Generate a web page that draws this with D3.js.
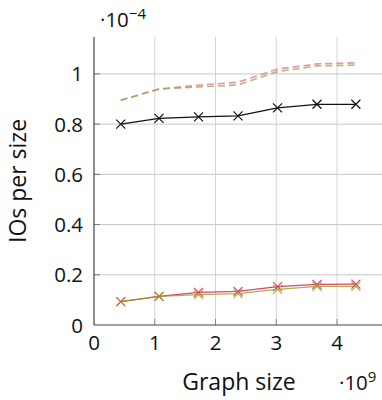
<!DOCTYPE html>
<html>
<head>
<meta charset="utf-8">
<script src="https://cdn.jsdelivr.net/npm/d3@7"></script>
<style>
  body { margin: 0; background: #fff; }
  text { font-family: "Open Sans", "DejaVu Sans", sans-serif; fill: #111; }
</style>
</head>
<body>
<div class="chart"></div>
<script>
const width = 382;
const height = 400;
const margin = { top: 37, bottom: 75, left: 94, right: 0 };

// graph size, in units of 10^9
const sizes = [0.44, 1.07, 1.72, 2.37, 3.02, 3.67, 4.31];
// IOs per size, in units of 10^-4
const blackVals = [0.800, 0.823, 0.829, 0.833, 0.865, 0.879, 0.879];
const redVals = [0.093, 0.114, 0.130, 0.134, 0.153, 0.162, 0.163];
const oliveVals = [0.093, 0.114, 0.121, 0.125, 0.142, 0.154, 0.154];
const redDashed = [0.895, 0.940, 0.955, 0.967, 1.019, 1.040, 1.044];
const oliveDashed = [0.895, 0.940, 0.948, 0.956, 1.009, 1.032, 1.035];

const xTicks = [0, 1, 2, 3, 4];
const yTicks = [0, 0.2, 0.4, 0.6, 0.8, 1];

const series = [
  { vals: redDashed, color: "#e0708a", dash: "7,4", marks: false, opacity: 0.75 },
  { vals: oliveDashed, color: "#a0a040", dash: "7,4", marks: false, opacity: 0.75 },
  { vals: blackVals, color: "#111", dash: null, marks: true, opacity: 1 },
  { vals: redVals, color: "#d8205a", dash: null, marks: true, opacity: 0.85 },
  { vals: oliveVals, color: "#9a9a20", dash: null, marks: true, opacity: 0.8 }
];

const xScale = d3.scaleLinear()
    .domain([0, 4.74])
    .range([margin.left, width - margin.right]);

const yScale = d3.scaleLinear()
    .domain([0, 1.147])
    .range([height - margin.bottom, margin.top]);

const svg = d3.select("div.chart")
    .append("svg")
    .attr("width", width)
    .attr("height", height);

const x0 = xScale(0), y0 = yScale(0);

// grid
svg.append("g")
    .selectAll("line")
    .data(xTicks.slice(1))
    .join("line")
    .attr("x1", d => xScale(d)).attr("x2", d => xScale(d))
    .attr("y1", margin.top).attr("y2", y0)
    .attr("stroke", "#d4d4d4").attr("stroke-width", 1);

svg.append("g")
    .selectAll("line")
    .data(yTicks.slice(1))
    .join("line")
    .attr("x1", x0).attr("x2", width)
    .attr("y1", d => yScale(d)).attr("y2", d => yScale(d))
    .attr("stroke", "#c8c8c8").attr("stroke-width", 1);

// inward ticks
svg.append("g")
    .selectAll("line")
    .data(yTicks.slice(1))
    .join("line")
    .attr("x1", x0).attr("x2", x0 + 6)
    .attr("y1", d => yScale(d)).attr("y2", d => yScale(d))
    .attr("stroke", "#777");

svg.append("g")
    .selectAll("line")
    .data(xTicks.slice(1))
    .join("line")
    .attr("x1", d => xScale(d)).attr("x2", d => xScale(d))
    .attr("y1", y0).attr("y2", y0 - 6)
    .attr("stroke", "#888");

// axis lines
svg.append("line")
    .attr("x1", x0).attr("x2", x0)
    .attr("y1", margin.top).attr("y2", y0)
    .attr("stroke", "#444").attr("stroke-width", 1.2);
svg.append("line")
    .attr("x1", x0).attr("x2", width)
    .attr("y1", y0).attr("y2", y0)
    .attr("stroke", "#444").attr("stroke-width", 1.2);

// tick labels
svg.append("g")
    .selectAll("text")
    .data(yTicks)
    .join("text")
    .attr("x", x0 - 11)
    .attr("y", d => yScale(d) + 7.5)
    .attr("text-anchor", "end")
    .attr("font-size", 20.5)
    .text(d => d3.format("~g")(d));

svg.append("g")
    .selectAll("text")
    .data(xTicks)
    .join("text")
    .attr("x", d => xScale(d))
    .attr("y", y0 + 25)
    .attr("text-anchor", "middle")
    .attr("font-size", 20.5)
    .text(d => d);

// exponent labels
const expY = svg.append("text")
    .attr("x", 100).attr("y", 27)
    .attr("font-size", 20.5);
expY.append("tspan").text("·10");
expY.append("tspan").attr("dy", -8).attr("font-size", 15).text("−4");

const expX = svg.append("text")
    .attr("x", 339).attr("y", 390)
    .attr("font-size", 20.5);
expX.append("tspan").text("·10");
expX.append("tspan").attr("dy", -8).attr("font-size", 15).text("9");

// axis titles
svg.append("text")
    .attr("x", 239).attr("y", 390)
    .attr("text-anchor", "middle")
    .attr("font-size", 23)
    .text("Graph size");

svg.append("text")
    .attr("transform", `translate(26,${(margin.top + y0) / 2}) rotate(-90)`)
    .attr("text-anchor", "middle")
    .attr("font-size", 23)
    .text("IOs per size");

// lines
const line = d3.line()
    .x((d, i) => xScale(sizes[i]))
    .y(d => yScale(d));

series.forEach(s => {
    const g = svg.append("g").attr("opacity", s.opacity);
    g.append("path")
        .attr("d", line(s.vals))
        .attr("fill", "none")
        .attr("stroke", s.color)
        .attr("stroke-width", s.dash ? 1.6 : 1.3)
        .attr("stroke-dasharray", s.dash);
    if (s.marks) {
        const r = 4.5;
        g.selectAll("path.mark")
            .data(s.vals)
            .join("path")
            .attr("class", "mark")
            .attr("d", (d, i) => {
                const cx = xScale(sizes[i]), cy = yScale(d);
                return `M${cx - r},${cy - r}L${cx + r},${cy + r}M${cx - r},${cy + r}L${cx + r},${cy - r}`;
            })
            .attr("stroke", s.color)
            .attr("stroke-width", 1.2)
            .attr("fill", "none");
    }
});
</script>
</body>
</html>
